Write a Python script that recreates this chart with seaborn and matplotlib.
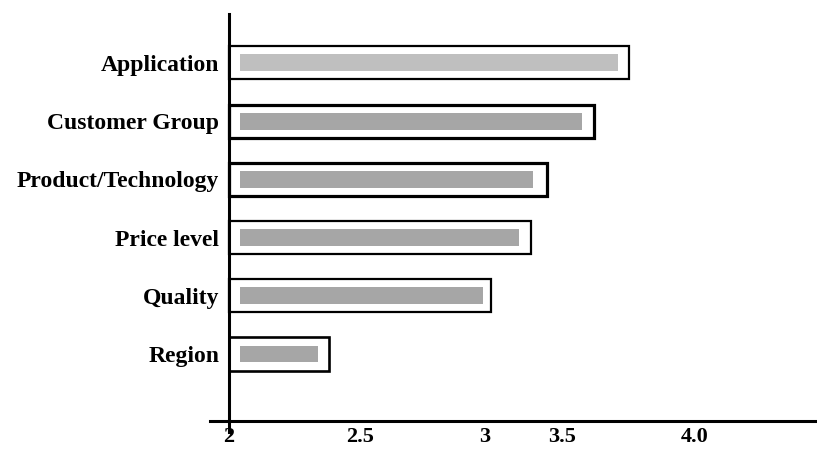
import numpy as np
import pandas as pd
import matplotlib
matplotlib.use("Agg")
import matplotlib.pyplot as plt
import seaborn as sns

# ---- data ----
categories = ["Application", "Customer Group", "Product/Technology",
              "Price level", "Quality", "Region"]
scores = [3.71, 3.575, 3.31, 3.22, 2.99, 2.34]      # inner grey bars
frames = [3.75, 3.62, 3.40, 3.30, 3.04, 2.38]       # outer outlined boxes
tick_values = [2, 2.5, 3, 3.5, 4]
tick_labels = ["2", "2.5", "3", "3.5", "4.0"]

# ---- styles / layout ----
inner_colors = ["#bfbfbf", "#a6a6a6", "#a6a6a6", "#a6a6a6", "#a6a6a6", "#a6a6a6"]
frame_widths = [1.6, 2.3, 2.3, 1.6, 1.6, 1.9]
AXIS_START = 2.0
INNER_START = 2.042
# the original axis is not linear: piecewise mapping of value -> position
KNOT_VALS = [1.5, 2.0, 2.5, 3.0, 3.5, 4.0, 4.5]
KNOT_POS = [101, 229, 360, 485, 562, 695, 828]


def fwd(v):
    return np.interp(v, KNOT_VALS, KNOT_POS)


def inv(p):
    return np.interp(p, KNOT_POS, KNOT_VALS)


sns.set_theme(style="white")
plt.rcParams["font.family"] = ["Liberation Serif", "DejaVu Serif"]
plt.rcParams["font.weight"] = "bold"

df = pd.DataFrame({"category": categories, "score": scores, "frame": frames})

fig = plt.figure(figsize=(8.17, 4.5), dpi=100)
ax = fig.add_axes([210 / 817, (450 - 432) / 450, 607 / 817, (432 - 14) / 450])

sns.barplot(data=df, x="frame", y="category", orient="h", color="white",
            edgecolor="black", errorbar=None, width=0.57, ax=ax)
n = len(categories)
for p, lw in zip(ax.patches[:n], frame_widths):
    p.set_facecolor("white")
    p.set_edgecolor("black")
    p.set_linewidth(lw)

sns.barplot(data=df, x="score", y="category", hue="category", orient="h",
            palette=inner_colors, legend=False, errorbar=None, width=0.29,
            linewidth=0, saturation=1, ax=ax)

ax.set_xscale("function", functions=(fwd, inv))

for i, p in enumerate(ax.patches):
    start = AXIS_START if i < n else INNER_START
    end = p.get_x() + p.get_width()
    p.set_x(start)
    p.set_width(end - start)

ax.set_xlim(inv(210), inv(817))
ax.set_ylim(6.34, -0.84)

for s in ["top", "right"]:
    ax.spines[s].set_visible(False)
for s in ["left", "bottom"]:
    ax.spines[s].set_color("black")
    ax.spines[s].set_linewidth(2.2)
ax.spines["left"].set_position(("data", AXIS_START))
ax.spines["bottom"].set_position(("data", 6.15))

ax.set_xticks(tick_values, tick_labels)
ax.xaxis.set_minor_locator(matplotlib.ticker.NullLocator())
ax.tick_params(axis="y", length=0, labelsize=17, colors="black", pad=7)
ax.tick_params(axis="x", length=0, labelsize=16, colors="black", pad=4.5)
for lab in ax.get_xticklabels() + ax.get_yticklabels():
    lab.set_fontweight("bold")
ax.set_xlabel("")
ax.set_ylabel("")

fig.savefig("out.png", dpi=100)
